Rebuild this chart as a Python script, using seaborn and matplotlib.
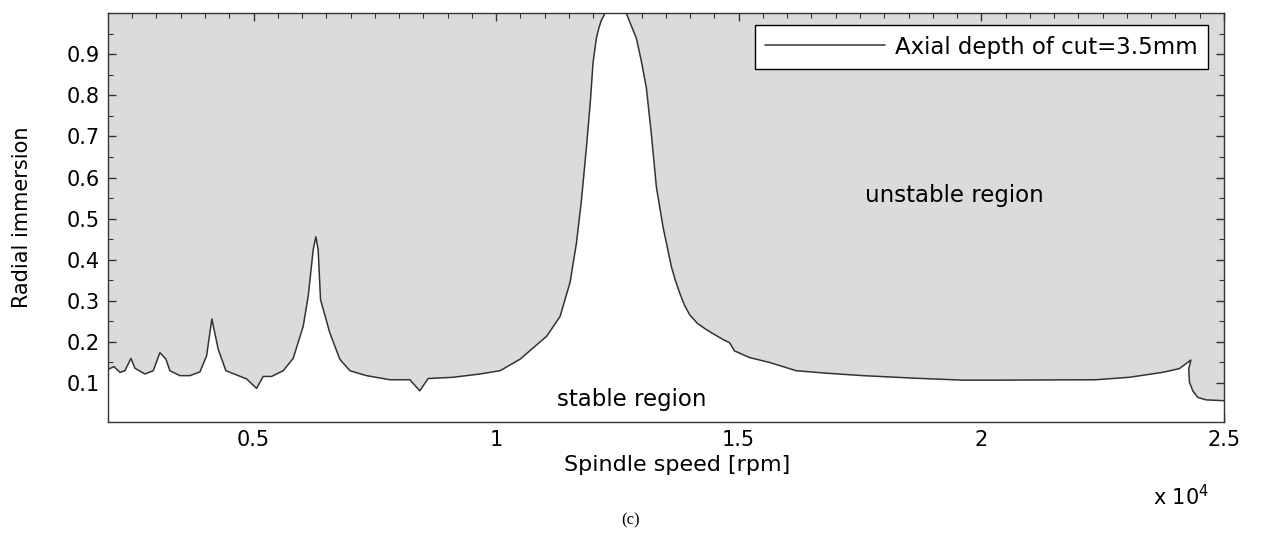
"""
    Stability lobe style diagram: radial immersion vs spindle speed,
    unstable region shaded grey above the boundary curve.
"""
import pandas as pd
import seaborn as sns
import matplotlib.pyplot as plt
from matplotlib.ticker import MultipleLocator

# boundary curve (last points fold back near 24300 rpm)
spindle_rpm = [
    2000, 2124, 2247, 2350, 2474, 2556, 2762, 2934, 3071, 3195,
    3277, 3483, 3689, 3895, 4033, 4142, 4273, 4431, 4857, 5063,
    5200, 5372, 5612, 5818, 6024, 6127, 6230, 6285, 6333, 6381,
    6573, 6779, 6985, 7328, 7810, 8222, 8427, 8599, 9114, 9670,
    10082, 10494, 10768, 11043, 11318, 11524, 11655, 11758, 11861, 11943,
    11998, 12067, 12120, 12170, 12230, 12273, 12650, 12700, 12753, 12891,
    12994, 13097, 13200, 13303, 13440, 13612, 13700, 13784, 13880, 13990,
    14150, 14333, 14500, 14676, 14812, 14915, 15224, 15636, 16185, 16803,
    17558, 18588, 19618, 20168, 22364, 23050, 23736, 24080, 24320, 24274,
    24290, 24358, 24461, 24633, 25000,
]
radial_immersion = [
    0.133, 0.140, 0.126, 0.130, 0.160, 0.136, 0.122, 0.130, 0.174, 0.158,
    0.130, 0.118, 0.118, 0.127, 0.166, 0.256, 0.182, 0.130, 0.110, 0.087,
    0.116, 0.116, 0.130, 0.160, 0.238, 0.311, 0.424, 0.456, 0.424, 0.303,
    0.222, 0.158, 0.130, 0.118, 0.108, 0.108, 0.081, 0.111, 0.114, 0.122,
    0.130, 0.158, 0.186, 0.214, 0.262, 0.345, 0.440, 0.544, 0.673, 0.786,
    0.880, 0.940, 0.965, 0.983, 0.996, 1.020, 1.020, 0.995, 0.979, 0.939,
    0.883, 0.818, 0.705, 0.577, 0.480, 0.383, 0.348, 0.319, 0.290, 0.266,
    0.245, 0.230, 0.218, 0.206, 0.198, 0.178, 0.162, 0.150, 0.130, 0.124,
    0.118, 0.112, 0.107, 0.107, 0.108, 0.114, 0.126, 0.135, 0.156, 0.134,
    0.102, 0.081, 0.065, 0.059, 0.057,
]

x_ticks = [5000, 10000, 15000, 20000, 25000]
x_tick_labels = ["0.5", "1", "1.5", "2", "2.5"]
y_ticks = [0.1, 0.2, 0.3, 0.4, 0.5, 0.6, 0.7, 0.8, 0.9]
y_tick_labels = ["0.1", "0.2", "0.3", "0.4", "0.5", "0.6", "0.7", "0.8", "0.9"]

sns.set_theme(style="ticks")
plt.rcParams['font.family'] = ['DejaVu Sans']
plt.rcParams['axes.edgecolor'] = '#333333'
plt.rcParams['text.color'] = 'black'
plt.rcParams['axes.labelcolor'] = 'black'

df = pd.DataFrame({"rpm": spindle_rpm, "immersion": radial_immersion})
x_min, x_max = 2000, 25000

fig = plt.figure(figsize=(12.61, 5.51), dpi=100)
ax = fig.add_axes([0.0856, 0.234, 0.885, 0.742])
ax.set_facecolor("#dbdbdb")        # unstable region = whole background

# stable region: white polygon under the boundary
ax.fill(spindle_rpm + [x_max, x_min], radial_immersion + [-1, -1],
        color="white", lw=0, zorder=1)
sns.lineplot(data=df, x="rpm", y="immersion", sort=False, estimator=None,
             color="#333333", lw=1.1, label="Axial depth of cut=3.5mm",
             ax=ax, zorder=2)

ax.set_xlim(x_min, x_max)
ax.set_ylim(0.005, 1.0)
ax.set_xticks(x_ticks, x_tick_labels)
ax.set_yticks(y_ticks, y_tick_labels)
ax.xaxis.set_minor_locator(MultipleLocator(500))
ax.yaxis.set_minor_locator(MultipleLocator(0.05))
ax.tick_params(which='both', direction='in', top=True, right=True,
               color='#333333', labelsize=15, labelcolor='black')
ax.tick_params(which='major', length=6, width=1, pad=6)
ax.tick_params(which='minor', length=3.5, width=0.8)
for sp in ax.spines.values():
    sp.set_linewidth(1.0)

ax.set_xlabel("Spindle speed [rpm]", fontsize=16)
ax.set_ylabel("Radial immersion", fontsize=15)
ax.xaxis.set_label_coords(0.51, -0.08)
ax.yaxis.set_label_coords(-0.068, 0.5)

ax.text(19450, 0.556, "unstable region", ha="center", va="center", fontsize=16.5)
ax.text(12794, 0.059, "stable region", ha="center", va="center", fontsize=16.5)

leg = ax.legend(loc="upper right", bbox_to_anchor=(0.9857, 0.9707),
                borderaxespad=0, frameon=True, fancybox=False,
                edgecolor="black", framealpha=1, fontsize=16.5,
                handlelength=5.2, handletextpad=0.45, borderpad=0.45)
leg.get_frame().set_linewidth(1.0)

fig.text(0.914, 0.098, r"x 10$^{4}$", fontsize=15, ha="left", va="center")
fig.text(0.5, 0.056, "(c)", fontsize=12, ha="center", va="center",
         family=["Liberation Serif", "DejaVu Serif"])

fig.savefig("out.png", dpi=100)
